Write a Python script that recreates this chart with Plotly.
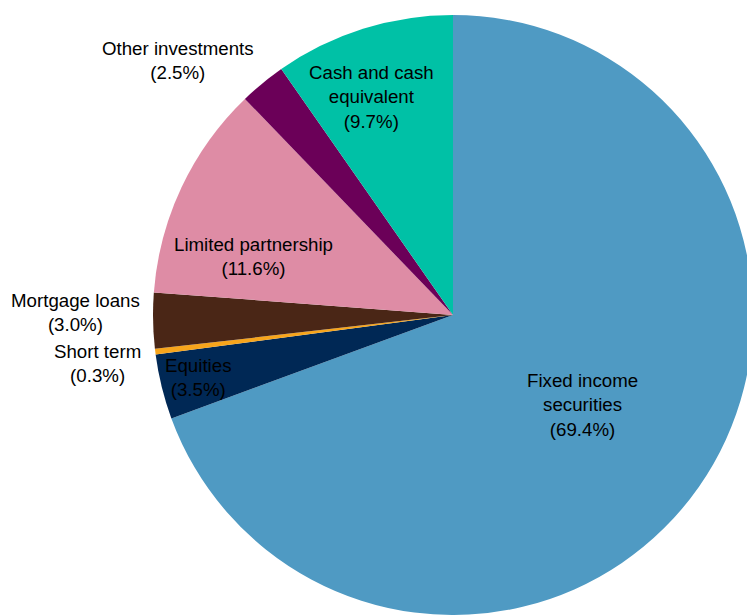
import math
import plotly.graph_objects as go

# Portfolio allocation, clockwise from 12 o'clock
categories = [
    "Fixed income securities",
    "Equities",
    "Short term",
    "Mortgage loans",
    "Limited partnership",
    "Other investments",
    "Cash and cash equivalent",
]
shares = [69.4, 3.5, 0.3, 3.0, 11.6, 2.5, 9.7]
label_lines = [
    ["Fixed income", "securities"],
    ["Equities"],
    ["Short term"],
    ["Mortgage loans"],
    ["Limited partnership"],
    ["Other investments"],
    ["Cash and cash", "equivalent"],
]

colors = ["#4F9AC3", "#002855", "#F7A51C", "#4A2616", "#DE8CA5", "#6B0058", "#00C1A6"]

# label placement: distance from centre (fraction of radius) and angular nudge (deg)
label_radius = [0.525, 0.876, 1.197, 1.26, 0.694, 1.25, 0.776]
label_nudge = [0.0, 0.0, -0.7, 1.4, -9.0, -7.8, -3.1]

W, H = 760, 615
CX, CY, R = 453.0, 315.0, 300.0  # pie centre and radius in pixels

fig = go.Figure(
    go.Pie(
        labels=categories,
        values=shares,
        sort=False,
        direction="clockwise",
        rotation=0,
        marker=dict(colors=colors, line=dict(width=0)),
        textinfo="none",
        hoverinfo="label+percent",
        showlegend=False,
        domain=dict(x=[(CX - R) / W, (CX + R) / W], y=[(H - CY - R) / H, (H - CY + R) / H]),
    )
)

total = sum(shares)
cum = 0.0
annotations = []
for name, val, lines, rf, nudge in zip(categories, shares, label_lines, label_radius, label_nudge):
    mid = (cum + val / 2) / total * 360.0 + nudge
    cum += val
    th = math.radians(mid)
    px = CX + rf * R * math.sin(th)
    py = CY - rf * R * math.cos(th)
    text = "<br>".join(lines + [f"({val:.1f}%)"])
    annotations.append(
        dict(
            x=px / W,
            y=1 - py / H,
            xref="paper",
            yref="paper",
            text=text,
            showarrow=False,
            xanchor="center",
            yanchor="middle",
            align="center",
            font=dict(family="Liberation Sans, Arial, sans-serif", size=18.7, color="#000000"),
        )
    )

fig.update_layout(
    width=W,
    height=H,
    margin=dict(l=0, r=0, t=0, b=0),
    paper_bgcolor="white",
    plot_bgcolor="white",
    annotations=annotations,
)

fig.write_html(
    "out.html",
    post_script="document.documentElement.style.overflow='hidden';document.body.style.overflow='hidden';document.body.style.margin='0';",
)
